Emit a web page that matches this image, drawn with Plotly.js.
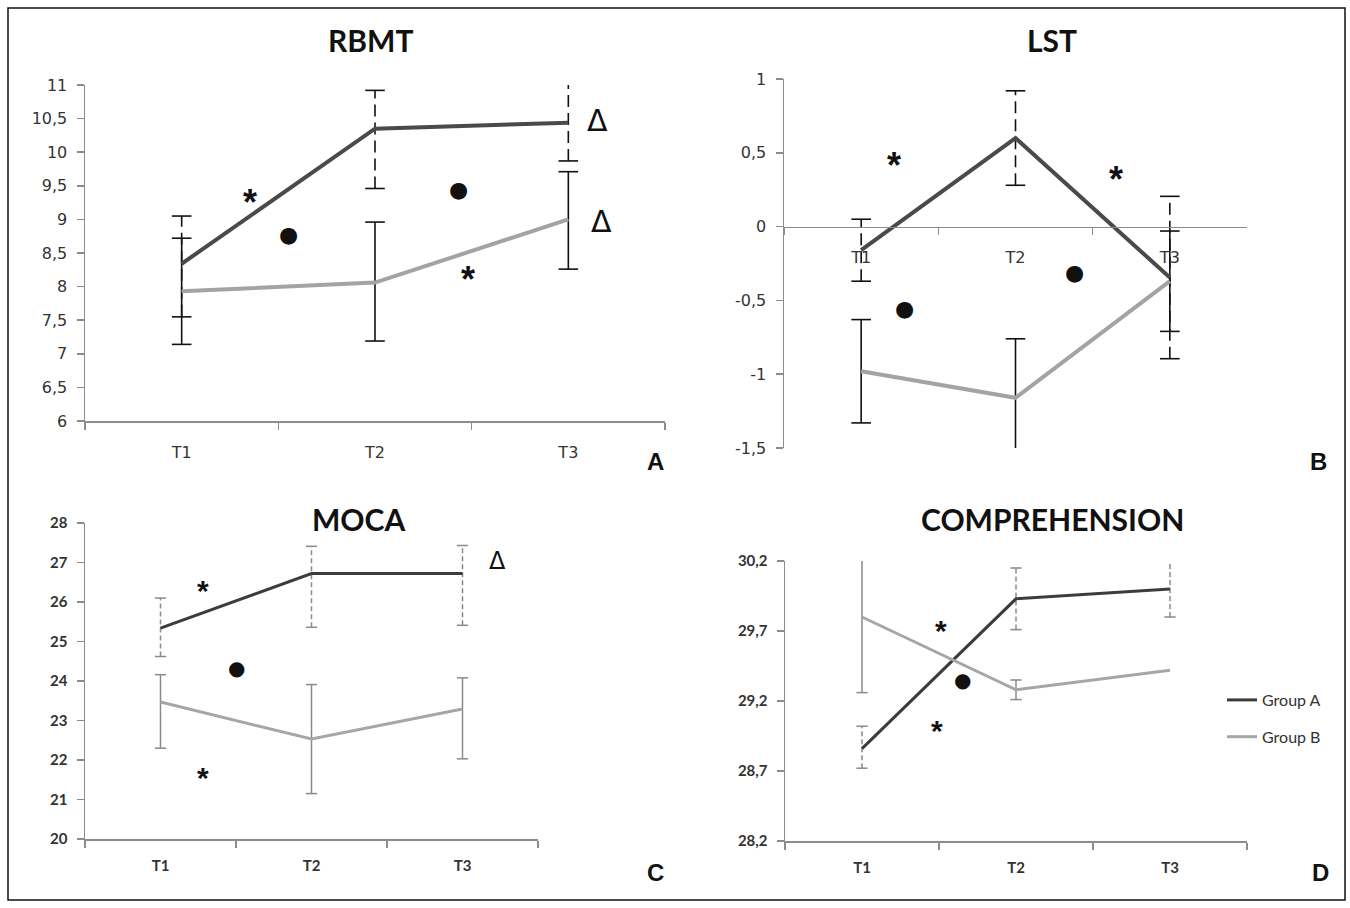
<!DOCTYPE html>
<html>
<head>
<meta charset="utf-8">
<script src="https://cdn.plot.ly/plotly-3.0.1.min.js"></script>
<style>html,body{margin:0;padding:0;background:#fff;}#chart{width:1350px;height:908px;}</style>
</head>
<body>
<div id="chart"></div>
<script>
// ---- data ----
const timepoints = ['T1', 'T2', 'T3'];
const groupNames = ['Group A', 'Group B'];

// RBMT (panel A)
const rbmtA = [8.34, 10.35, 10.44];
const rbmtAPlus = [0.71, 0.57, 0.58];
const rbmtAMinus = [0.79, 0.89, 0.57];
const rbmtB = [7.93, 8.06, 9.00];
const rbmtBPlus = [0.79, 0.90, 0.71];
const rbmtBMinus = [0.79, 0.87, 0.74];

// LST (panel B)
const lstA = [-0.16, 0.60, -0.345];
const lstAErr = [0.21, 0.32, 0.55];
const lstB = [-0.98, -1.16, -0.37];
const lstBErr = [0.35, 0.40, 0.34];
const lstTickVals = [-1.5, -1, -0.5, 0, 0.5, 1];
const lstTickText = ['-1,5', '-1', '-0,5', '0', '0,5', '1'];

// MOCA (panel C)
const mocaA = [25.34, 26.72, 26.72];
const mocaAPlus = [0.76, 0.69, 0.71];
const mocaAMinus = [0.72, 1.36, 1.31];
const mocaB = [23.47, 22.53, 23.29];
const mocaBPlus = [0.69, 1.38, 0.79];
const mocaBMinus = [1.17, 1.38, 1.26];

// COMPREHENSION (panel D)
const compA = [28.86, 29.93, 30.00];
const compAPlus = [0.16, 0.22, 0.21];
const compAMinus = [0.14, 0.22, 0.20];
const compB = [29.80, 29.28, 29.42];
const compBErr = [0.54, 0.07, 0];

const panelTitles = ['RBMT', 'LST', 'MOCA', 'COMPREHENSION'];
const panelLetters = ['A', 'B', 'C', 'D'];

// significance marks: [symbol, index position, value]
const marksA = [['*', 0.355, 9.40], ['●', 0.55, 8.78], ['●', 1.43, 9.44], ['*', 1.48, 8.26], ['Δ', 2.15, 10.44], ['Δ', 2.17, 8.94]];
const marksB = [['*', 0.21, 0.48], ['*', 1.65, 0.39], ['●', 0.28, -0.556], ['●', 1.38, -0.31]];
const marksC = [['*', 0.28, 26.5], ['●', 0.5, 24.33], ['*', 0.28, 21.76], ['Δ', 2.23, 27.0]];
const marksD = [['*', 0.51, 29.76], ['●', 0.65, 29.35], ['*', 0.49, 29.05]];

// ---- styles ----
const darkAB = '#4a4a4a', lightAB = '#a3a3a3';
const darkCD = '#3c3c3c', lightCD = '#a6a6a6';

function errTraces(xa, ya, means, plus, minus, color, dash, width, cap) {
  const xs = [], ys = [], cx = [], cy = [];
  means.forEach((m, i) => {
    if (!plus[i] && !minus[i]) return;
    xs.push(timepoints[i], timepoints[i], timepoints[i]);
    ys.push(m - minus[i], m + plus[i], null);
    cx.push(timepoints[i], timepoints[i]);
    cy.push(m - minus[i], m + plus[i]);
  });
  return [
    {type: 'scatter', mode: 'lines', x: xs, y: ys, xaxis: xa, yaxis: ya, connectgaps: false,
     line: {color: color, width: width, dash: dash}, showlegend: false, hoverinfo: 'skip'},
    {type: 'scatter', mode: 'markers', x: cx, y: cy, xaxis: xa, yaxis: ya,
     marker: {symbol: 'line-ew', size: cap, color: color, line: {color: color, width: width}},
     showlegend: false, hoverinfo: 'skip'}
  ];
}

function lineTrace(xa, ya, vals, name, color, width, showlegend) {
  return {type: 'scatter', mode: 'lines', x: timepoints, y: vals, name: name, xaxis: xa, yaxis: ya,
    line: {color: color, width: width}, showlegend: showlegend, legendgroup: name, hoverinfo: 'skip'};
}

const data = [].concat(
  errTraces('x', 'y', rbmtB, rbmtBPlus, rbmtBMinus, '#111', 'solid', 1.6, 14),
  errTraces('x', 'y', rbmtA, rbmtAPlus, rbmtAMinus, '#111', '12px,6px', 1.6, 14),
  [lineTrace('x', 'y', rbmtA, groupNames[0], darkAB, 4, false),
   lineTrace('x', 'y', rbmtB, groupNames[1], lightAB, 4, false)],

  errTraces('x2', 'y2', lstB, lstBErr, lstBErr, '#111', 'solid', 1.6, 14),
  errTraces('x2', 'y2', lstA, lstAErr, lstAErr, '#111', '12px,6px', 1.6, 14),
  [lineTrace('x2', 'y2', lstA, groupNames[0], darkAB, 4, false),
   lineTrace('x2', 'y2', lstB, groupNames[1], lightAB, 4, false)],

  errTraces('x3', 'y3', mocaB, mocaBPlus, mocaBMinus, '#8a8a8a', 'solid', 1.5, 8),
  errTraces('x3', 'y3', mocaA, mocaAPlus, mocaAMinus, '#8a8a8a', '5px,3px', 1.5, 8),
  [lineTrace('x3', 'y3', mocaA, groupNames[0], darkCD, 3, false),
   lineTrace('x3', 'y3', mocaB, groupNames[1], lightCD, 3, false)],

  errTraces('x4', 'y4', compB, compBErr, compBErr, '#8a8a8a', 'solid', 1.5, 8),
  errTraces('x4', 'y4', compA, compAPlus, compAMinus, '#8a8a8a', '5px,3px', 1.5, 8),
  [lineTrace('x4', 'y4', compA, groupNames[0], darkCD, 3, true),
   lineTrace('x4', 'y4', compB, groupNames[1], lightCD, 3, true)]
);

// ---- layout ----
const W = 1350, H = 908;
const px = v => v / W, py = v => 1 - v / H;
const axisGray = '#8c8c8c';
const fontAB = {family: 'DejaVu Sans, Verdana, sans-serif', size: 16, color: '#333'};
const fontCD = {family: 'Lato, sans-serif', size: 15, color: '#333', weight: 'bold'};

function xAxis(domain, anchor, font, standoff, extra) {
  return Object.assign({
    domain: domain, anchor: anchor, type: 'category', categoryorder: 'array', categoryarray: timepoints,
    range: [-0.5, 2.5], tickson: 'boundaries', ticks: 'outside', ticklen: 7, tickcolor: axisGray, tickwidth: 1.5,
    showline: true, linecolor: axisGray, linewidth: 1.5, showgrid: false, zeroline: false,
    tickfont: font, ticklabelstandoff: standoff, fixedrange: true
  }, extra || {});
}
function yAxis(domain, anchor, range, dtick, font, extra) {
  return Object.assign({
    domain: domain, anchor: anchor, range: range, dtick: dtick, tick0: range[0],
    ticks: 'outside', ticklen: 7, tickcolor: axisGray, tickwidth: 1.5,
    showline: true, linecolor: axisGray, linewidth: 1.5, showgrid: false, zeroline: false,
    tickfont: font, fixedrange: true, ticklabelstandoff: 6
  }, extra || {});
}

const yDomB = [py(448), py(79)];
const zeroPosB = yDomB[0] + (0 - (-1.5)) / 2.5 * (yDomB[1] - yDomB[0]);

const annotations = [];
const titlePos = [[370, 40], [1052, 40], [358, 519], [1052, 519]];
panelTitles.forEach((t, i) => annotations.push({
  text: t, xref: 'paper', yref: 'paper', x: px(titlePos[i][0]), y: py(titlePos[i][1]),
  xanchor: 'center', yanchor: 'middle',
  showarrow: false, font: {family: 'Lato, sans-serif', size: 30, weight: 'bold', color: '#111'}
}));
const letterPos = [[655, 462], [1318, 462], [655, 872], [1320, 872]];
panelLetters.forEach((t, i) => annotations.push({
  text: t, xref: 'paper', yref: 'paper', x: px(letterPos[i][0]), y: py(letterPos[i][1]),
  xanchor: 'center', yanchor: 'middle',
  showarrow: false, font: {family: 'Liberation Sans, Arial, sans-serif', size: 24, weight: 'bold', color: '#111'}
}));
function addMarks(marks, xr, yr, big) {
  marks.forEach(m => {
    let size, shift, fam = 'DejaVu Sans, sans-serif', weight = 'normal';
    if (m[0] === '*') { size = big ? 36 : 30; shift = big ? -10 : -8; fam = 'Liberation Sans, Arial, sans-serif'; weight = 'bold'; }
    else if (m[0] === '●') { size = big ? 22 : 20; shift = 0; }
    else { size = big ? 30 : 24; shift = 2; }
    annotations.push({text: m[0], xref: xr, yref: yr, x: m[1], y: m[2], yshift: shift, showarrow: false,
      xanchor: 'center', yanchor: 'middle',
      font: {family: fam, size: size, color: '#111', weight: weight}});
  });
}
addMarks(marksA, 'x', 'y', true);
addMarks(marksB, 'x2', 'y2', true);
addMarks(marksC, 'x3', 'y3', false);
addMarks(marksD, 'x4', 'y4', false);

const layout = {
  width: W, height: H, margin: {l: 0, r: 0, t: 0, b: 0},
  paper_bgcolor: '#fff', plot_bgcolor: 'rgba(0,0,0,0)',
  showlegend: true,
  legend: {x: px(1222), y: py(683), xanchor: 'left', yanchor: 'top', tracegroupgap: 13,
    font: {family: 'Lato, sans-serif', size: 16, color: '#333'}, itemwidth: 30, bgcolor: 'rgba(0,0,0,0)'},
  xaxis: xAxis([px(85), px(665)], 'y', fontAB, 16),
  yaxis: yAxis([py(421), py(85)], 'x', [6, 11], 0.5, fontAB),
  xaxis2: xAxis([px(784), px(1247)], 'free', fontAB, 16, {position: zeroPosB}),
  yaxis2: yAxis(yDomB, 'x2', [-1.5, 1], 0.5, fontAB, {tickmode: 'array', tickvals: lstTickVals, ticktext: lstTickText}),
  xaxis3: xAxis([px(85), px(538)], 'y3', fontCD, 12),
  yaxis3: yAxis([py(839), py(523)], 'x3', [20, 28], 1, fontCD),
  xaxis4: xAxis([px(785), px(1247)], 'y4', fontCD, 12),
  yaxis4: yAxis([py(841), py(561)], 'x4', [28.2, 30.2], 0.5, fontCD),
  annotations: annotations,
  shapes: [{type: 'rect', xref: 'paper', yref: 'paper', x0: px(8), x1: px(1345), y0: py(900), y1: py(8),
    line: {color: '#111', width: 1.5}, fillcolor: 'rgba(0,0,0,0)'}],
  separators: ', '
};

Plotly.newPlot('chart', data, layout, {staticPlot: true, displayModeBar: false});
</script>
</body>
</html>
